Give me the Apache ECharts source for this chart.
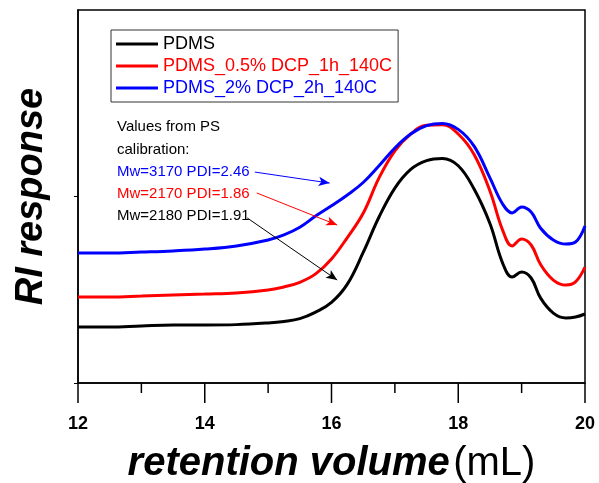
<!DOCTYPE html>
<html>
<head>
    <meta charset="UTF-8">
    <title>RI response vs retention volume</title>
    <script src="https://cdn.jsdelivr.net/npm/echarts@6/dist/echarts.min.js"></script>
</head>
<body style="margin:0">
<div id="main" style="width: 599px;height:483px;"></div>
<script type="text/javascript">
    // retention volume (mL)
    let xs = [12, 12.5, 13, 13.5, 14, 14.5, 15, 15.25, 15.5, 15.75, 16, 16.25, 16.5, 16.75, 17, 17.25, 17.5, 17.75, 18, 18.25, 18.5, 18.7, 18.85, 19.0, 19.15, 19.3, 19.5, 19.7, 19.85, 20];
    // RI response (arbitrary units)
    let pdms = [0.300, 0.300, 0.306, 0.311, 0.311, 0.313, 0.322, 0.330, 0.345, 0.380, 0.432, 0.530, 0.700, 0.890, 1.045, 1.145, 1.192, 1.204, 1.165, 1.040, 0.855, 0.643, 0.568, 0.595, 0.563, 0.455, 0.375, 0.349, 0.354, 0.370];
    let pdms05 = [0.461, 0.461, 0.466, 0.472, 0.477, 0.483, 0.499, 0.515, 0.540, 0.585, 0.665, 0.780, 0.910, 1.100, 1.245, 1.335, 1.382, 1.385, 1.335, 1.225, 1.030, 0.820, 0.735, 0.772, 0.740, 0.635, 0.552, 0.525, 0.542, 0.622];
    let pdms2 = [0.697, 0.697, 0.702, 0.708, 0.718, 0.735, 0.767, 0.794, 0.835, 0.895, 0.950, 1.008, 1.075, 1.165, 1.260, 1.335, 1.380, 1.392, 1.360, 1.270, 1.100, 0.960, 0.912, 0.944, 0.917, 0.830, 0.767, 0.745, 0.756, 0.842];

    let names = ['PDMS', 'PDMS_0.5% DCP_1h_140C', 'PDMS_2% DCP_2h_140C'];
    let colors = ['#000000', '#ff0000', '#0000ff'];
    let xTicks = [12, 14, 16, 18, 20];
    let xMinorTicks = [13, 15, 17, 19];

    // annotation arrows: [x, y] start and end in data units
    let arrowFrom = [[14.67, 0.885], [14.82, 1.019], [14.79, 1.131]];
    let arrowTo = [[16.09, 0.552], [16.09, 0.847], [15.97, 1.072]];
    let notes = ['Values from PS', 'calibration:', 'Mw=3170 PDI=2.46', 'Mw=2170 PDI=1.86', 'Mw=2180 PDI=1.91'];
    let noteColors = ['#000', '#000', '#0000ff', '#ff0000', '#000'];

    let font = "'Liberation Sans', Arial, sans-serif";
    var myChart = echarts.init(document.getElementById('main'));

    let allY = [pdms, pdms05, pdms2];
    let series = allY.map((ys, k) => ({
        name: names[k],
        type: 'line',
        smooth: 0.4,
        symbol: 'none',
        lineStyle: {color: colors[k], width: 3},
        itemStyle: {color: colors[k]},
        data: xs.map((x, i) => [x, ys[i]]),
        markLine: {
            silent: true,
            symbol: ['none', 'arrow'],
            symbolSize: [7, 11],
            label: {show: false},
            lineStyle: {type: 'solid', width: 1, color: colors[k]},
            data: [[{coord: arrowFrom[k]}, {coord: arrowTo[k]}]]
        }
    }));

    // outward x ticks, drawn below the axis line
    series.push({
        name: 'ticks',
        type: 'custom',
        silent: true,
        clip: false,
        z: 10,
        data: xTicks.concat(xMinorTicks).map(t => [t, 0]),
        renderItem: function (params, api) {
            let p = api.coord([api.value(0), 0]);
            let len = xTicks.indexOf(api.value(0)) >= 0 ? 20 : 10;
            return {
                type: 'line',
                shape: {x1: p[0], y1: p[1], x2: p[0], y2: p[1] + len},
                style: {stroke: '#000', lineWidth: 1.5}
            };
        }
    });

    let noteY = [128, 151, 173, 195, 217];
    let graphics = notes.map((t, i) => ({
        type: 'text',
        left: 117,
        top: noteY[i] - 9,
        style: {text: t, fill: noteColors[i], font: '15px ' + font}
    }));

    let option = {
        animation: false,
        grid: {
            left: 78, right: 14, top: 10, bottom: 100,
            containLabel: false,
            outerBoundsMode: 'none',
            show: true, borderColor: '#000', borderWidth: 1.5
        },
        legend: {
            orient: 'vertical',
            left: 111,
            top: 30,
            padding: [5, 6, 5, 5],
            itemGap: 4,
            itemWidth: 42,
            itemHeight: 3,
            icon: 'rect',
            borderColor: '#333',
            borderWidth: 1,
            textStyle: {fontSize: 18, fontFamily: font},
            data: names.map((n, k) => ({name: n, textStyle: {color: colors[k]}}))
        },
        xAxis: {
            type: 'value',
            min: 12,
            max: 20,
            interval: 2,
            name: '{a|retention volume} {b|(mL)}',
            nameLocation: 'middle',
            nameGap: 61,
            nameTextStyle: {
                rich: {
                    a: {fontSize: 40, fontWeight: 'bold', fontStyle: 'italic', fontFamily: font, color: '#000'},
                    b: {fontSize: 40, fontFamily: font, color: '#000'}
                }
            },
            axisLine: {show: true, onZero: false, lineStyle: {color: '#000', width: 1.5}},
            axisTick: {show: false},
            axisLabel: {
                margin: 32, fontSize: 18, fontWeight: 'bold', color: '#000', fontFamily: font
            },
            splitLine: {show: false}
        },
        yAxis: {
            type: 'value',
            min: 0,
            max: 2,
            interval: 1,
            name: 'RI response',
            nameLocation: 'middle',
            nameGap: 27,
            nameTextStyle: {fontSize: 38, fontWeight: 'bold', fontStyle: 'italic', fontFamily: font, color: '#000'},
            axisLine: {show: true, lineStyle: {color: '#000', width: 1.5}},
            axisTick: {show: true, length: 4, customValues: [0, 1], lineStyle: {color: '#000', width: 1}},
            axisLabel: {show: false},
            splitLine: {show: false}
        },
        graphic: graphics,
        series: series
    };

    myChart.setOption(option);
</script>
</body>
</html>
